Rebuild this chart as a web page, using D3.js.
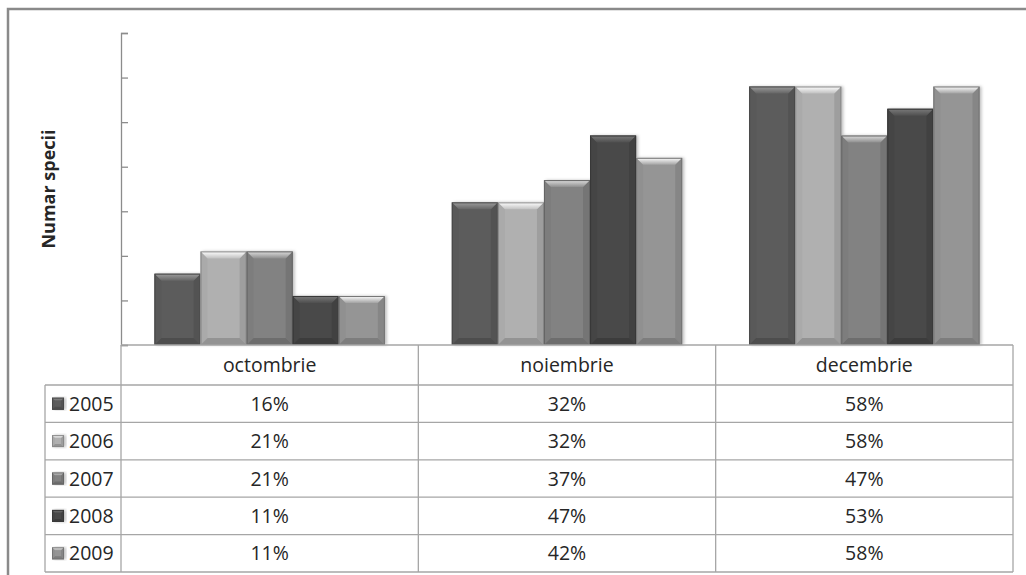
<!DOCTYPE html>
<html>
<head>
<meta charset="utf-8">
<script src="https://cdn.jsdelivr.net/npm/d3@7"></script>
<style>
  html, body { margin: 0; padding: 0; background: #fff; }
  svg { display: block; }
  text { font-family: "Open Sans", "Noto Sans", sans-serif; fill: #262626; }
</style>
</head>
<body>
<svg id="chart" width="1026" height="575"></svg>
<script>
// Share of species per month, by year (%)
const months = ["octombrie", "noiembrie", "decembrie"];
const years = ["2005", "2006", "2007", "2008", "2009"];
const v2005 = [16, 32, 58];
const v2006 = [21, 32, 58];
const v2007 = [21, 37, 47];
const v2008 = [11, 47, 53];
const v2009 = [11, 42, 58];
const seriesValues = [v2005, v2006, v2007, v2008, v2009];
const yTicks = [0, 10, 20, 30, 40, 50, 60, 70];
const yTitle = "Numar specii";
const seriesColors = ["#5c5c5c", "#b0b0b0", "#828282", "#484848", "#959595"];

const svg = d3.select("#chart");

// outer frame
svg.append("rect")
  .attr("x", 8).attr("y", 9).attr("width", 1040).attr("height", 620)
  .attr("fill", "none").attr("stroke", "#8a8a8a").attr("stroke-width", 2.5);

const plotLeft = 121, plotRight = 1013, plotTop = 33, plotBottom = 345;
const headerBottom = 385, tableBottom = 572, legendLeft = 45;

const x0 = d3.scaleBand().domain(months).range([plotLeft, plotRight]);
const x1 = d3.scaleBand().domain(years)
  .range([33.5, x0.bandwidth() - 33.5]);
const y = d3.scaleLinear().domain([0, 70]).range([plotBottom, plotTop]);
const rowY = d3.scaleBand().domain(years).range([headerBottom, tableBottom]);
const color = d3.scaleOrdinal().domain(years).range(seriesColors);

// drop shadow for the bars
const defs = svg.append("defs");
const f = defs.append("filter").attr("id", "shadow")
  .attr("x", "-10%").attr("y", "-10%").attr("width", "130%").attr("height", "120%");
f.append("feDropShadow").attr("dx", 2).attr("dy", 0).attr("stdDeviation", 1.5)
  .attr("flood-color", "#000").attr("flood-opacity", 0.25);

// y axis: tick marks only
const yAxis = d3.axisRight(y).tickValues(yTicks).tickFormat("").tickSize(7).tickSizeOuter(7);
const ax = svg.append("g").attr("transform", `translate(${plotLeft},0)`).call(yAxis);
ax.selectAll("path, line").attr("stroke", "#8c8c8c").attr("stroke-width", 1.3);

// y title
svg.append("text")
  .attr("transform", `translate(55,${189}) rotate(-90)`)
  .attr("text-anchor", "middle")
  .style("font-weight", "bold").style("font-size", "18px")
  .text(yTitle);

// bevelled bar
function bevelBar(g, x, yTop, w, h, c, b) {
  const base = d3.color(c);
  const light = base.brighter(1.5).formatHex();
  const top2 = base.brighter(0.25).formatHex();
  const sideL = base.darker(0.1).formatHex();
  const sideR = base.darker(0.3).formatHex();
  const bottom = base.darker(0.5).formatHex();
  const grp = g.append("g");
  grp.append("rect").attr("x", x).attr("y", yTop).attr("width", w).attr("height", h)
    .attr("fill", c).attr("filter", "url(#shadow)");
  const bb = Math.min(b, h / 2, w / 2);
  // sides
  grp.append("polygon").attr("points",
    [[x, yTop], [x + bb, yTop + bb], [x + bb, yTop + h - bb], [x, yTop + h]].join(" "))
    .attr("fill", sideL);
  grp.append("polygon").attr("points",
    [[x + w, yTop], [x + w - bb, yTop + bb], [x + w - bb, yTop + h - bb], [x + w, yTop + h]].join(" "))
    .attr("fill", sideR);
  // bottom
  grp.append("polygon").attr("points",
    [[x, yTop + h], [x + bb, yTop + h - bb], [x + w - bb, yTop + h - bb], [x + w, yTop + h]].join(" "))
    .attr("fill", bottom);
  // top
  const gid = "g" + Math.random().toString(36).slice(2);
  const lg = defs.append("linearGradient").attr("id", gid)
    .attr("x1", 0).attr("y1", 0).attr("x2", 0).attr("y2", 1);
  lg.append("stop").attr("offset", "0%").attr("stop-color", light);
  lg.append("stop").attr("offset", "100%").attr("stop-color", top2);
  grp.append("polygon").attr("points",
    [[x, yTop], [x + w, yTop], [x + w - bb, yTop + bb], [x + bb, yTop + bb]].join(" "))
    .attr("fill", `url(#${gid})`);
  grp.append("rect").attr("x", x + 0.5).attr("y", yTop + 0.5).attr("width", w - 1).attr("height", h - 1)
    .attr("fill", "none").attr("stroke", base.darker(0.7).formatHex()).attr("stroke-width", 1);
}

const bars = svg.append("g");
years.forEach((yr, si) => {
  months.forEach((m, mi) => {
    const val = seriesValues[si][mi];
    const bx = x0(m) + x1(yr);
    bevelBar(bars, bx, y(val), x1.bandwidth(), y(0) - y(val), color(yr), 7);
  });
});

// data table
const tbl = svg.append("g");
const lineColor = "#a6a6a6";
function hline(x1p, x2p, yp) {
  tbl.append("line").attr("x1", x1p).attr("x2", x2p).attr("y1", yp).attr("y2", yp)
    .attr("stroke", lineColor).attr("stroke-width", 1.3);
}
function vline(xp, y1p, y2p) {
  tbl.append("line").attr("x1", xp).attr("x2", xp).attr("y1", y1p).attr("y2", y2p)
    .attr("stroke", lineColor).attr("stroke-width", 1.3);
}
hline(plotLeft, plotRight, plotBottom);
years.forEach(yr => hline(legendLeft, plotRight, rowY(yr)));
hline(legendLeft, plotRight, tableBottom);
vline(legendLeft, headerBottom, tableBottom);
vline(plotLeft, plotBottom, tableBottom);
months.forEach(m => vline(x0(m) + x0.bandwidth(), plotBottom, tableBottom));

const fs = "19.5px";
// header labels
tbl.selectAll("text.head").data(months).join("text")
  .attr("class", "head")
  .attr("x", d => x0(d) + x0.bandwidth() / 2)
  .attr("y", (plotBottom + headerBottom) / 2 + 7)
  .attr("text-anchor", "middle").style("font-size", fs)
  .text(d => d);

// value cells
years.forEach((yr, si) => {
  tbl.selectAll(null).data(months).join("text")
    .attr("x", d => x0(d) + x0.bandwidth() / 2)
    .attr("y", rowY(yr) + rowY.bandwidth() / 2 + 7)
    .attr("text-anchor", "middle").style("font-size", fs)
    .text((d, mi) => seriesValues[si][mi] + "%");
  // legend key + year label
  bevelBar(tbl, legendLeft + 7, rowY(yr) + rowY.bandwidth() / 2 - 6, 12, 12, color(yr), 3);
  tbl.append("text")
    .attr("x", legendLeft + 24)
    .attr("y", rowY(yr) + rowY.bandwidth() / 2 + 7)
    .style("font-size", fs)
    .text(yr);
});
</script>
</body>
</html>
